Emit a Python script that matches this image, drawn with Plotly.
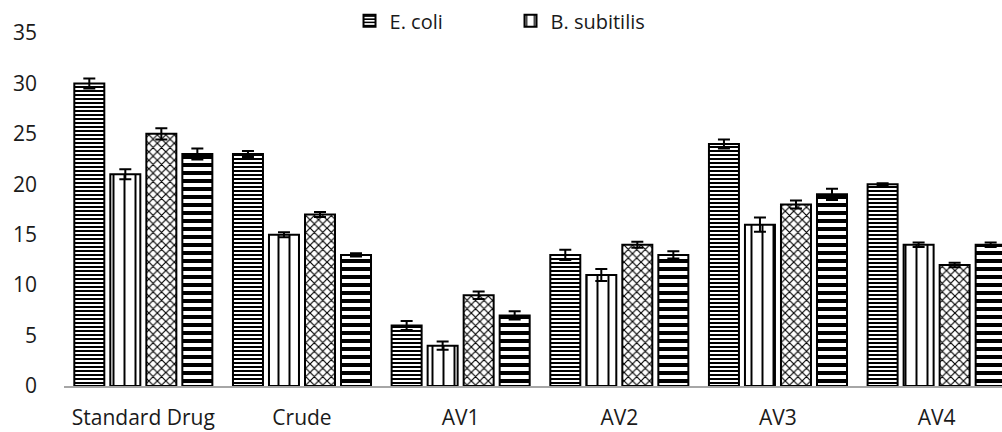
import plotly.graph_objects as go

# Zone of inhibition (mm) per sample and test organism
categories = ["Standard Drug", "Crude", "AV1", "AV2", "AV3", "AV4"]

ecoli = [30, 23, 6, 13, 24, 20]
ecoli_err = [0.5, 0.3, 0.45, 0.5, 0.45, 0.1]

bsub = [21, 15, 4, 11, 16, 14]
bsub_err = [0.5, 0.25, 0.4, 0.6, 0.7, 0.23]

series3 = [25, 17, 9, 14, 18, 12]
series3_err = [0.55, 0.25, 0.38, 0.3, 0.4, 0.23]

series4 = [23, 13, 7, 13, 19, 14]
series4_err = [0.55, 0.15, 0.41, 0.35, 0.55, 0.23]

y_ticks = [0, 5, 10, 15, 20, 25, 30, 35]

FONT = "Open Sans"
TEXT = "#1a1a1a"

styles = [
    ("E. coli", ecoli, ecoli_err, dict(shape="-", size=4, solidity=0.5), True),
    ("B. subitilis", bsub, bsub_err, dict(shape="|", size=11, solidity=0.18), True),
    ("series3", series3, series3_err, dict(shape="x", size=6, solidity=0.35), False),
    ("series4", series4, series4_err, dict(shape="-", size=8, solidity=0.5), False),
]

fig = go.Figure()
for name, vals, errs, pat, show in styles:
    fig.add_trace(go.Bar(
        x=categories,
        y=vals,
        name=name,
        showlegend=show,
        marker=dict(
            color="white",
            line=dict(color="black", width=2),
            pattern=dict(fgcolor="black", bgcolor="white", fgopacity=1, **pat),
        ),
        error_y=dict(type="data", array=errs, visible=True,
                     color="black", thickness=2, width=6),
    ))

fig.update_layout(
    width=1002,
    height=432,
    margin=dict(l=64, r=0, t=33, b=46, autoexpand=False),
    paper_bgcolor="white",
    plot_bgcolor="white",
    barmode="group",
    bargap=0.092,
    bargroupgap=0.167,
    font=dict(family=FONT, size=21, color=TEXT),
    legend=dict(
        orientation="h",
        xref="container", x=0.5095, xanchor="center",
        yref="container", y=0.997, yanchor="top",
        font=dict(family=FONT, size=20, color=TEXT),
        entrywidth=116, entrywidthmode="pixels",
        bgcolor="rgba(0,0,0,0)",
    ),
    xaxis=dict(
        type="category",
        range=[-0.5, 5.412],
        showline=True, linecolor="#a6a6a6", linewidth=1.5,
        showgrid=False, ticks="", ticklabelstandoff=12,
        tickfont=dict(family=FONT, size=21, color=TEXT),
    ),
    yaxis=dict(
        range=[0, 35],
        tickvals=y_ticks,
        showline=False, showgrid=False, zeroline=False,
        ticks="", ticklabelstandoff=26,
        tickfont=dict(family=FONT, size=21, color=TEXT),
    ),
)

fig.write_html("out.html")
